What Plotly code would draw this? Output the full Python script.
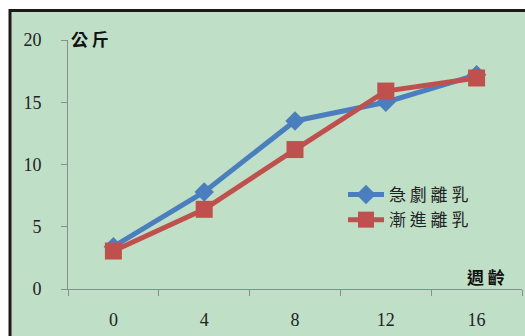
import plotly.graph_objects as go

# Piglet body weight (kg) by age in weeks under two weaning methods
weeks = ["0", "4", "8", "12", "16"]
abrupt = [3.4, 7.8, 13.5, 15.0, 17.2]     # 急劇離乳
gradual = [3.05, 6.4, 11.2, 15.9, 16.95]  # 漸進離乳

y_ticks = [0, 5, 10, 15, 20]

BG = "#bfe0c7"
BLUE = "#4a7ebf"
RED = "#c0504d"
AXIS = "#8c8c8c"
CJK = "Noto Sans CJK TC"
SERIF = "Liberation Serif"

W, H = 525, 336
ML, MR, MT, MB = 68, 3, 40, 47
PW = W - ML - MR
PH = H - MT - MB


def px(x):
    return (x - ML) / PW


def py(y):
    return 1 - (y - MT) / PH


def spaced(s):
    return " ".join(s)


fig = go.Figure()
fig.add_trace(go.Scatter(
    x=weeks, y=abrupt, name=spaced("急劇離乳"), mode="lines+markers",
    line=dict(color=BLUE, width=5),
    marker=dict(symbol="diamond", size=15, color=BLUE),
))
fig.add_trace(go.Scatter(
    x=weeks, y=gradual, name=spaced("漸進離乳"), mode="lines+markers",
    line=dict(color=RED, width=5),
    marker=dict(symbol="square", size=17, color=RED),
))

# white page strip and black frame around the chart panel
fig.add_shape(type="rect", xref="paper", yref="paper",
              x0=px(-5), x1=px(W + 5), y0=py(10), y1=py(-5),
              fillcolor="white", line_width=0, layer="below")
fig.add_shape(type="rect", xref="paper", yref="paper",
              x0=px(-5), x1=px(9), y0=py(H + 5), y1=py(-5),
              fillcolor="white", line_width=0, layer="below")
fig.add_shape(type="line", xref="paper", yref="paper",
              x0=px(9), x1=px(W + 5), y0=py(10.5), y1=py(10.5),
              line=dict(color="#1a1a1a", width=3))
fig.add_shape(type="line", xref="paper", yref="paper",
              x0=px(10), x1=px(10), y0=py(9), y1=py(H + 5),
              line=dict(color="#1a1a1a", width=3))

fig.add_annotation(text="<b>公 斤</b>", xref="paper", yref="paper",
                   x=px(69), y=py(39), xanchor="left", yanchor="middle",
                   showarrow=False, font=dict(family=CJK, size=17, color="#111"))
fig.add_annotation(text="<b>週 齡</b>", xref="paper", yref="paper",
                   x=px(507), y=py(276), xanchor="right", yanchor="middle",
                   showarrow=False, font=dict(family=CJK, size=17, color="#111"))

fig.update_layout(
    width=W, height=H,
    margin=dict(l=ML, r=MR, t=MT, b=MB, pad=0),
    paper_bgcolor=BG, plot_bgcolor=BG,
    showlegend=True,
    legend=dict(x=px(343), y=py(177), xanchor="left", yanchor="top",
                bgcolor="rgba(0,0,0,0)", font=dict(family=CJK, size=17, color="#222"),
                tracegroupgap=0, itemwidth=36),
    xaxis=dict(type="category", categoryorder="array", categoryarray=weeks,
               range=[-0.5, 4.5], tickson="boundaries", ticks="outside", ticklen=6,
               tickcolor=AXIS, showline=True, linecolor=AXIS, linewidth=1,
               showgrid=False, zeroline=False, ticklabelstandoff=14,
               tickfont=dict(family=SERIF, size=18, color="#222")),
    yaxis=dict(range=[0, 20], tickvals=y_ticks, ticks="outside", ticklen=6,
               tickcolor=AXIS, showline=True, linecolor=AXIS, linewidth=1,
               showgrid=False, zeroline=False, ticklabelstandoff=16,
               tickfont=dict(family=SERIF, size=18, color="#222")),
)

fig.write_html("out.html")
